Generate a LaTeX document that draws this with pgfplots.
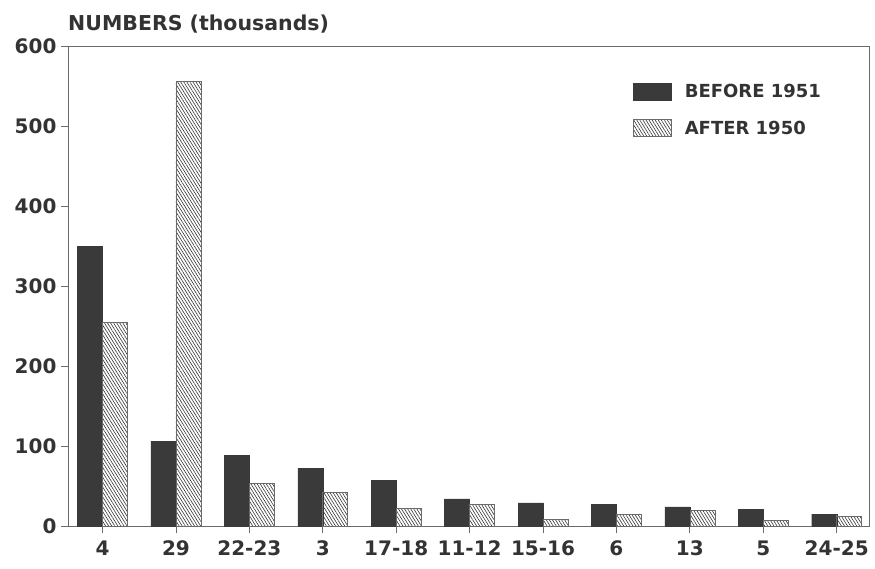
\documentclass[border=0pt]{standalone}
\usepackage{fontspec}
\setmainfont{DejaVu Sans}
\usepackage{pgfplots}
\pgfplotsset{compat=1.18}
\usetikzlibrary{patterns.meta}

\definecolor{ink}{HTML}{333333}
\definecolor{darkbar}{HTML}{3A3A3A}
\definecolor{axisgrey}{HTML}{6A6A6A}

\newcommand{\tickfont}{\bfseries\fontsize{20}{22}\selectfont}
\newcommand{\chartfont}{\bfseries\fontsize{18}{20}\selectfont}

\begin{document}
\begin{tikzpicture}
\begin{axis}[
    name=main,
    at={(0pt,0pt)}, anchor=south west,
    scale only axis,
    width=801pt, height=480pt,
    ybar=0pt, bar width=25pt,
    ymin=0, ymax=600,
    ytick={0,100,...,600},
    xmin=-0.47, xmax=10.44,
    xtick={0,...,10},
    xticklabels={4,29,22-23,3,17-18,11-12,15-16,6,13,5,24-25},
    tick align=outside,
    tick pos=left,
    major tick length=7pt,
    tick style={draw=axisgrey, line width=0.8pt},
    axis line style={draw=axisgrey, line width=0.8pt},
    /pgf/number format/assume math mode=true,
    ticklabel style={font=\tickfont, text=ink},
    yticklabel style={xshift=-1pt},
    xticklabel style={yshift=-4pt},
    legend style={
        at={(0.7016,0.929)}, anchor=north west,
        draw=none, fill=none,
        font=\chartfont, text=ink,
        row sep=18pt,
        /tikz/every odd column/.append style={column sep=11pt},
    },
    legend cell align=left,
    legend image code/.code={\draw[#1] (0pt,-8pt) rectangle (38pt,9pt);},
]
\addplot[fill=darkbar, draw=darkbar, line width=0.4pt] coordinates {
    (0,350) (1,106) (2,88) (3,72) (4,57) (5,34)
    (6,29) (7,27) (8,24) (9,21) (10,15)
};
\addlegendentry{BEFORE 1951}
\addplot[draw=axisgrey, line width=0.6pt,
    pattern={Lines[angle=-58, distance=2.6pt, line width=0.6pt]},
    pattern color=ink] coordinates {
    (0,255) (1,556) (2,53) (3,42) (4,22) (5,27)
    (6,8) (7,15) (8,20) (9,7) (10,12)
};
\addlegendentry{AFTER 1950}
\end{axis}
\node[anchor=base west, text=ink, inner sep=0pt,
    font=\bfseries\fontsize{20.5}{22}\selectfont]
    at ([yshift=16pt]main.north west) {NUMBERS (thousands)};
\path[use as bounding box] (-68pt,-42pt) rectangle (807pt,526pt);
\end{tikzpicture}
\end{document}
